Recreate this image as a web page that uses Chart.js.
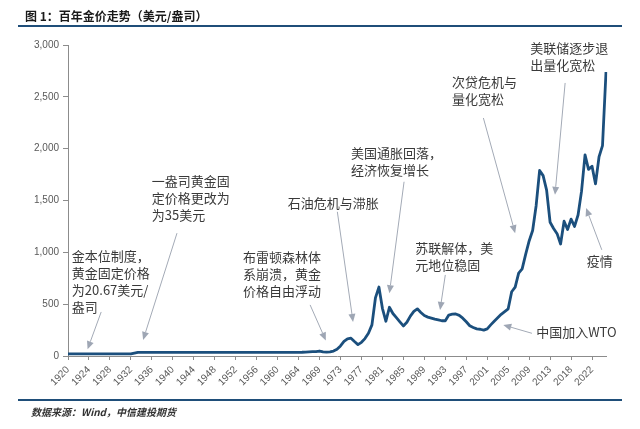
<!DOCTYPE html>
<html>
<head>
<meta charset="utf-8">
<script src="https://cdn.jsdelivr.net/npm/chart.js@4/dist/chart.umd.min.js"></script>
<style>
  html, body { margin: 0; padding: 0; background: #fff; }
  #wrap { position: relative; width: 640px; height: 429px; overflow: hidden; }
  #chart-box { position: absolute; left: 0; top: 0; width: 640px; height: 429px; }
  .title { position: absolute; left: 25px; top: 7px; font: bold 12px "Noto Sans CJK SC", sans-serif; color: #1a1a1a; }
  .rule { position: absolute; left: 18px; width: 604px; height: 2px; background: #1f4e79; }
  .source { position: absolute; left: 31px; top: 404px; font: italic bold 10px "Noto Sans CJK SC", sans-serif; color: #333; }
</style>
</head>
<body>
<div id="wrap">
  <div id="chart-box"><canvas id="gold-chart"></canvas></div>
  <div class="title">图 1：百年金价走势（美元/盎司）</div>
  <div class="rule" style="top:25px"></div>
  <div class="rule" style="top:399px"></div>
  <div class="source">数据来源：Wind，中信建投期货</div>
</div>
<script>
// === Gold price, 1920 - 2024 (USD/oz) ===

var tickYears = ['1920', '1924', '1928', '1932', '1936', '1940', '1944', '1948', '1952',
  '1956', '1960', '1964', '1969', '1973', '1977', '1981', '1985', '1989', '1993',
  '1997', '2001', '2005', '2009', '2013', '2018', '2022'];
var pointsPerTick = 6;

var goldPrice = [
  20.67, 20.67, 20.67, 20.67, 20.67, 20.67, 20.67, 20.67, 20.67, 20.67,
  20.67, 20.67, 20.67, 20.67, 20.67, 20.67, 20.67, 20.67, 20.67, 28,
  35, 35, 35, 35, 35, 35, 35, 35, 35, 35,
  35, 35, 35, 35, 35, 35, 35, 35, 35, 35,
  35, 35, 35, 35, 35, 35, 35, 35, 35, 35,
  35, 35, 35, 35, 35, 35, 35, 35, 35, 35,
  35, 35, 35, 35, 35, 35, 35, 36, 38, 40,
  42, 43, 48, 40, 37, 40, 48, 65, 97, 140,
  165, 172, 140, 110, 132, 168, 219, 300, 560, 665,
  460, 335, 470, 410, 370, 330, 290, 325, 385, 430,
  455, 420, 390, 375, 365, 355, 348, 340, 340, 395,
  403, 405, 392, 365, 330, 292, 275, 262, 258, 250,
  262, 300, 335, 368, 402, 428, 455, 620, 665, 800,
  840, 980, 1110, 1210, 1450, 1790, 1740, 1600, 1290, 1230,
  1180, 1080, 1300, 1220, 1320, 1250, 1360, 1590, 1940, 1800,
  1830, 1660, 1920, 2030, 2740
];

var yTicks = { min: 0, max: 3000, step: 500 };

// annotation text + arrow (tail -> head), all in data space (index, price)
var notes = [
  { lines: ['金本位制度，', '黄金固定价格', '为20.67美元/', '盎司'], at: [1.1, 966], from: [9.5, 425], to: [5.6, 65] },
  { lines: ['一盎司黄金固', '定价格更改为', '为35美元'], at: [24, 1684], from: [31.2, 1185], to: [21.5, 155] },
  { lines: ['布雷顿森林体', '系崩溃，黄金', '价格自由浮动'], at: [50.1, 956], from: [69.3, 493], to: [73.8, 150] },
  { lines: ['石油危机与滞胀'], at: [62.9, 1478], from: [77.1, 1391], to: [81.6, 328] },
  { lines: ['美国通胀回落，', '经济恢复增长'], at: [81, 1958], from: [96.2, 1681], to: [92, 606] },
  { lines: ['次贷危机与', '量化宽松'], at: [109.9, 2644], from: [118.9, 2296], to: [128, 1185] },
  { lines: ['美联储逐步退', '出量化宽松'], at: [132.3, 2972], from: [142.3, 2634], to: [139.4, 1555] },
  { lines: ['苏联解体，美', '元地位稳固'], at: [99.4, 1040], from: [108, 782], to: [106.5, 444] },
  { lines: ['中国加入WTO'], at: [134, 235], from: [132.8, 219], to: [124.6, 299] },
  { lines: ['疫情'], at: [148.5, 911], from: [152.8, 1024], to: [148.3, 1427] }
];

var labels = goldPrice.map(function(v, i) {
  return i % pointsPerTick === 0 ? (tickYears[i / pointsPerTick] || '') : '';
});

var axisGray = '#8c8c8c';
var noteFont = '13px "Noto Sans CJK SC", sans-serif';

// --- annotations ---
var notePlugin = {
  id: 'notes',
  afterDatasetsDraw: function(chart) {
    var ctx = chart.ctx;
    var xs = chart.scales.x, ys = chart.scales.y;
    ctx.save();
    notes.forEach(function(n) {
      var x1 = xs.getPixelForValue(n.from[0]), y1 = ys.getPixelForValue(n.from[1]);
      var x2 = xs.getPixelForValue(n.to[0]), y2 = ys.getPixelForValue(n.to[1]);
      var ang = Math.atan2(y2 - y1, x2 - x1);
      var len = 8, half = 3.5;
      var bx = x2 - Math.cos(ang) * len, by = y2 - Math.sin(ang) * len;
      ctx.strokeStyle = '#a3aab6';
      ctx.lineWidth = 1;
      ctx.beginPath();
      ctx.moveTo(x1, y1);
      ctx.lineTo(bx, by);
      ctx.stroke();
      ctx.fillStyle = '#9ea6b4';
      ctx.beginPath();
      ctx.moveTo(x2, y2);
      ctx.lineTo(bx + Math.sin(ang) * half, by - Math.cos(ang) * half);
      ctx.lineTo(bx - Math.sin(ang) * half, by + Math.cos(ang) * half);
      ctx.closePath();
      ctx.fill();

      ctx.fillStyle = '#3a3a3a';
      ctx.font = noteFont;
      ctx.textBaseline = 'middle';
      ctx.textAlign = 'left';
      var tx = xs.getPixelForValue(n.at[0]), ty = ys.getPixelForValue(n.at[1]);
      n.lines.forEach(function(t, k) {
        ctx.fillText(t, tx, ty + k * 17);
      });
    });
    ctx.restore();
  }
};

new Chart(document.getElementById('gold-chart').getContext('2d'), {
  type: 'line',
  data: {
    labels: labels,
    datasets: [{
      data: goldPrice,
      borderColor: '#1b4f7d',
      borderWidth: 2.8,
      pointRadius: 0,
      tension: 0,
      borderJoinStyle: 'round',
      fill: false
    }]
  },
  options: {
    responsive: true,
    maintainAspectRatio: false,
    animation: false,
    layout: { padding: { left: 0, top: 45, right: 34, bottom: 0 } },
    plugins: { legend: { display: false }, tooltip: { enabled: false } },
    scales: {
      x: {
        type: 'category',
        offset: false,
        afterFit: function(s) { s.height = 73; },
        border: { display: true, color: axisGray, width: 1 },
        grid: {
          drawOnChartArea: false,
          drawTicks: true,
          tickLength: 4,
          offset: false,
          color: function(c) { return c.index % pointsPerTick === 0 ? axisGray : 'rgba(0,0,0,0)'; }
        },
        ticks: {
          autoSkip: false,
          maxRotation: 45,
          minRotation: 45,
          padding: 4,
          color: '#595959',
          font: { family: 'Liberation Sans', size: 10 },
          callback: function(v, i) { return labels[i]; }
        }
      },
      y: {
        min: yTicks.min,
        max: yTicks.max,
        afterFit: function(s) { s.width = 68; },
        border: { display: true, color: axisGray, width: 1 },
        grid: { drawOnChartArea: false, drawTicks: true, tickLength: 5, color: axisGray },
        ticks: {
          stepSize: yTicks.step,
          padding: 4,
          color: '#595959',
          font: { family: 'Liberation Sans', size: 10 },
          callback: function(v) { return v.toLocaleString('en-US'); }
        }
      }
    }
  },
  plugins: [notePlugin]
});
</script>
</body>
</html>
